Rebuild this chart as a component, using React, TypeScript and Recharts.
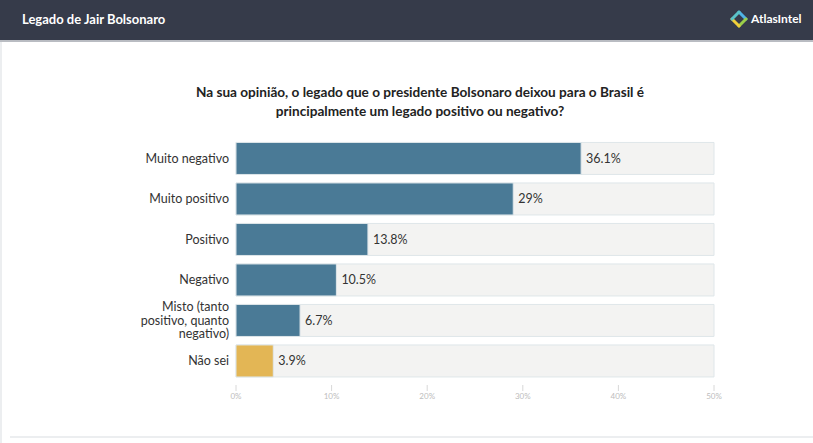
import React from 'react';
import { BarChart, Bar, XAxis, YAxis, Cell, LabelList } from 'recharts';

const categories = [
  'Muito negativo',
  'Muito positivo',
  'Positivo',
  'Negativo',
  'Misto (tanto positivo, quanto negativo)',
  'Não sei',
];
const values = [36.1, 29, 13.8, 10.5, 6.7, 3.9];
const barColors = ['#4a7a96', '#4a7a96', '#4a7a96', '#4a7a96', '#4a7a96', '#e3b655'];
const xTicks = [0, 10, 20, 30, 40, 50];

const data = categories.map((name, i) => ({ name, value: values[i] }));

const FONT = 'Lato, "Open Sans", sans-serif';

function wrap(text: string, max: number) {
  const words = text.split(' ');
  const lines: string[] = [];
  let cur = '';
  for (const w of words) {
    const next = cur ? cur + ' ' + w : w;
    if (next.length > max && cur) {
      lines.push(cur);
      cur = w;
    } else {
      cur = next;
    }
  }
  if (cur) lines.push(cur);
  return lines;
}

const CategoryTick = ({ x, y, payload }: any) => {
  const lines = wrap(payload.value, 16);
  const lh = 13.5;
  const start = -((lines.length - 1) * lh) / 2;
  return (
    <text x={x - 7} y={y} textAnchor="end" fontFamily={FONT} fontSize={12.5} fill="#333">
      {lines.map((l, i) => (
        <tspan key={i} x={x - 7} y={y + start + i * lh} dy="0.35em">
          {l}
        </tspan>
      ))}
    </text>
  );
};

const PercentTick = ({ x, y, payload }: any) => (
  <g>
    <line x1={x} x2={x} y1={y + 4} y2={y + 10} stroke="#d8d8d8" />
    <text x={x} y={y + 18} textAnchor="middle" fontFamily={FONT} fontSize={8} fill="#bdbdbd">
      {payload.value}%
    </text>
  </g>
);

const Logo = () => (
  <svg width={18} height={18} viewBox="0 0 18 18" style={{ position: 'absolute', left: 730, top: 10 }}>
    <path d="M9 2 L16 9" stroke="#4fb3e6" strokeWidth={3} strokeLinecap="round" fill="none" />
    <path d="M16 9 L9 16" stroke="#9ccf4a" strokeWidth={3} strokeLinecap="round" fill="none" />
    <path d="M9 16 L2 9" stroke="#f0cf3a" strokeWidth={3} strokeLinecap="round" fill="none" />
    <path d="M2 9 L9 2" stroke="#5ac3c8" strokeWidth={3} strokeLinecap="round" fill="none" />
  </svg>
);

export default function App() {
  return (
    <div
      style={{
        position: 'relative',
        width: 813,
        height: 443,
        background: '#fff',
        overflow: 'hidden',
        fontFamily: FONT,
      }}
    >
      <style>{'body{margin:0}'}</style>
      <div
        style={{
          position: 'absolute',
          left: 0,
          top: 0,
          width: 813,
          height: 40,
          background: '#363b4a',
          borderBottom: '2px solid #b9bcc2',
        }}
      />
      <div
        style={{
          position: 'absolute',
          left: 22,
          top: 11,
          color: '#fff',
          fontSize: 13,
          fontWeight: 700,
          fontFamily: FONT,
        }}
      >
        Legado de Jair Bolsonaro
      </div>
      <Logo />
      <div
        style={{
          position: 'absolute',
          left: 751,
          top: 11,
          color: '#fff',
          fontSize: 12,
          fontWeight: 700,
          fontFamily: FONT,
        }}
      >
        AtlasIntel
      </div>
      <div style={{ position: 'absolute', left: 0, top: 42, width: 2, height: 401, background: '#eceef0' }} />
      <div style={{ position: 'absolute', left: 10, top: 436, width: 803, height: 2, background: '#eceef0' }} />
      <div
        style={{
          position: 'absolute',
          left: 170,
          width: 500,
          top: 83,
          textAlign: 'center',
          fontSize: 13.6,
          fontWeight: 700,
          lineHeight: '19px',
          color: '#222',
          fontFamily: FONT,
        }}
      >
        Na sua opinião, o legado que o presidente Bolsonaro deixou para o Brasil é principalmente um legado
        positivo ou negativo?
      </div>
      <div style={{ position: 'absolute', left: 0, top: 133 }}>
        <BarChart
          width={813}
          height={280}
          data={data}
          layout="vertical"
          barCategoryGap="11%"
          margin={{ top: 5, right: 99, left: 0, bottom: 0 }}
        >
          <XAxis
            type="number"
            domain={[0, 50]}
            ticks={xTicks}
            axisLine={false}
            tickLine={false}
            tickSize={0}
            tickMargin={0}
            tick={<PercentTick />}
            height={32}
            interval={0}
          />
          <YAxis
            type="category"
            dataKey="name"
            width={236}
            axisLine={false}
            tickLine={false}
            tickSize={0}
            tickMargin={0}
            tick={<CategoryTick />}
            interval={0}
          />
          <Bar dataKey="value" isAnimationActive={false} background={{ fill: '#f3f3f2' }}>
            {data.map((d, i) => (
              <Cell key={d.name} fill={barColors[i]} stroke="#dfe6ea" strokeWidth={1} />
            ))}
            <LabelList
              dataKey="value"
              position="right"
              offset={5}
              formatter={(v: any) => `${v}%`}
              style={{ fontFamily: FONT, fontSize: 12.5, fill: '#333' }}
            />
          </Bar>
        </BarChart>
      </div>
    </div>
  );
}
